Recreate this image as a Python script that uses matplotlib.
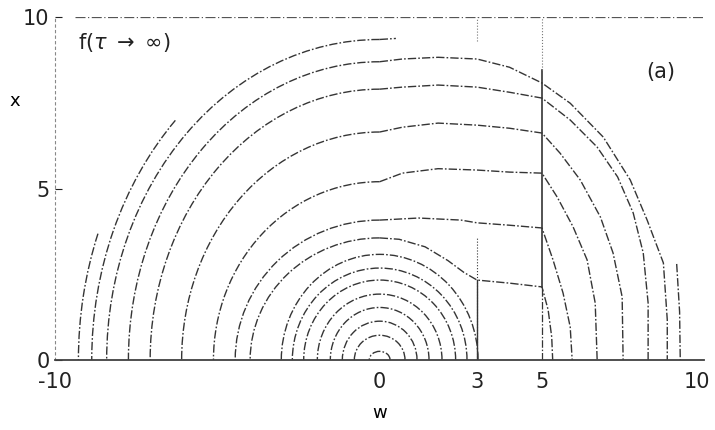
import matplotlib
matplotlib.use('Agg')
import matplotlib.pyplot as plt
import matplotlib.transforms as mtrans
from matplotlib.patches import Arc

plt.rcParams['font.family'] = ['DejaVu Sans']

# inner, closed semicircles: half width along w and height along x
ring_width = [0.32, 0.78, 1.15, 1.52, 1.92, 2.34, 2.69, 3.03]
ring_height = [0.25, 0.72, 1.13, 1.53, 1.92, 2.33, 2.68, 3.08]

# outer contours: left crossing on w axis and height at w = 0
outer_left = [3.99, 4.45, 5.12, 6.10, 7.07, 7.74, 8.41]
outer_top = [3.56, 4.08, 5.20, 6.65, 7.90, 8.70, 9.35]

# right hand parts of the outer contours
c7_w = [0.0, 0.6, 1.4, 2.1, 2.6, 3.0, 4.0, 5.0, 5.19, 5.30, 5.33]
c7_x = [3.56, 3.52, 3.30, 2.90, 2.55, 2.33, 2.24, 2.13, 1.46, 0.67, 0.0]
c6_w = [0.0, 1.2, 2.5, 3.0, 4.0, 5.0, 5.34, 5.65, 5.87, 5.93]
c6_x = [4.08, 4.14, 4.08, 4.00, 3.93, 3.85, 2.92, 1.95, 0.96, 0.0]
c5_w = [0.0, 0.7, 1.8, 3.0, 4.0, 5.0, 5.47, 5.96, 6.39, 6.64, 6.70]
c5_x = [5.20, 5.45, 5.58, 5.54, 5.48, 5.45, 4.75, 3.88, 2.92, 1.66, 0.0]
c4_w = [0.0, 0.7, 1.8, 3.0, 4.0, 5.0, 5.56, 6.18, 6.80, 7.19, 7.47, 7.50]
c4_x = [6.65, 6.79, 6.91, 6.85, 6.76, 6.62, 6.03, 5.25, 4.17, 3.12, 1.84, 0.0]
c3_w = [0.0, 0.7, 1.8, 3.0, 4.0, 5.0, 5.87, 6.70, 7.33, 7.81, 8.12, 8.27, 8.27]
c3_x = [7.90, 7.96, 8.02, 7.96, 7.81, 7.64, 7.00, 6.21, 5.34, 4.29, 3.12, 1.66, 0.0]
c2_w = [0.0, 0.7, 1.8, 3.0, 4.0, 5.0, 5.87, 6.89, 7.72, 8.24, 8.74, 8.86, 8.86]
c2_x = [8.70, 8.78, 8.83, 8.78, 8.54, 8.08, 7.49, 6.50, 5.25, 4.08, 2.83, 1.17, 0.0]
c1_w = [0.0, 0.5]
c1_x = [9.35, 9.38]
right_parts = [(c7_w, c7_x), (c6_w, c6_x), (c5_w, c5_x), (c4_w, c4_x),
               (c3_w, c3_x), (c2_w, c2_x), (c1_w, c1_x)]

# broken outermost arcs on the left and a lone piece on the right
broken_left = [8.87, 9.28]
broken_top = [9.92, 10.4]
broken_end = [132, 157]
frag_w = [9.15, 9.24, 9.26]
frag_x = [2.80, 1.40, 0.0]

xticks = [-10, 0, 3, 5, 10]
yticks = [0, 5, 10]

ink = '#353535'
ls = (0, (6, 1.5, 1.2, 1.5))

fig = plt.figure(figsize=(7.15, 4.3), dpi=100)
ax = fig.add_axes([0.077, 0.163, 0.908, 0.797])
ax.set_xlim(-10, 10)
ax.set_ylim(0, 10)

for r, h in zip(ring_width, ring_height):
    ax.add_patch(Arc((0, 0), 2 * r, 2 * h, theta1=0, theta2=180,
                     color=ink, lw=1.0, ls=ls))

for a, b, (pw, px) in zip(outer_left, outer_top, right_parts):
    ax.add_patch(Arc((0, 0), 2 * a, 2 * b, theta1=90, theta2=180,
                     color=ink, lw=1.0, ls=ls))
    ax.plot(pw, px, color=ink, lw=1.0, ls=ls)

for a, b, t in zip(broken_left, broken_top, broken_end):
    ax.add_patch(Arc((0, 0), 2 * a, 2 * b, theta1=t, theta2=180,
                     color=ink, lw=1.0, ls=ls))
ax.plot(frag_w, frag_x, color=ink, lw=1.0, ls=ls)

# barriers at w = 3 and w = 5
ax.plot([3, 3], [0, 3.6], color=ink, lw=0.8, ls=':')
ax.plot([3, 3], [0, 2.33], color=ink, lw=1.0)
ax.plot([5, 5], [2.13, 8.45], color=ink, lw=1.2)
ax.plot([5, 5], [0, 2.13], color=ink, lw=0.9, ls=ls)
ax.plot([5, 5], [8.45, 10], color='#777777', lw=0.8, ls=':')
ax.plot([3, 3], [9.3, 10], color='#777777', lw=0.8, ls=':')

# frame drawn as in the scan
ax.plot([-9.4, 10], [10, 10], color='#555555', lw=0.9, ls=(0, (8, 2, 1, 2)))
for s in ['top', 'right']:
    ax.spines[s].set_visible(False)
ax.spines['left'].set_color('#888888')
ax.spines['left'].set_linestyle((0, (2, 3)))
ax.spines['bottom'].set_color('#404040')
ax.spines['bottom'].set_linewidth(1.3)

ax.set_xticks(xticks)
ax.set_yticks(yticks)
ax.set_xticklabels([str(t) for t in xticks])
ax.set_yticklabels([str(t) for t in yticks])
ax.tick_params(axis='x', length=0, pad=9, labelsize=15, colors='#222222')
ax.tick_params(axis='y', direction='in', length=5, pad=4, labelsize=15,
               colors='#222222')

# pull the last w label a little inside the figure
last = ax.get_xticklabels()[-1]
last.set_transform(last.get_transform() +
                   mtrans.ScaledTranslation(-5 / 72, 0, fig.dpi_scale_trans))

ax.set_xlabel('w', fontsize=13, labelpad=8)
ax.set_ylabel('x', fontsize=13, rotation=0, labelpad=12)
ax.yaxis.set_label_coords(-0.062, 0.73)

ax.text(-9.3, 9.25, r'f($\tau$ $\rightarrow$ $\infty$)', fontsize=15,
        va='center', ha='left', color='#222222')
ax.text(8.2, 8.4, '(a)', fontsize=15, va='center', ha='left', color='#222222')

fig.savefig('out.png', dpi=100)
